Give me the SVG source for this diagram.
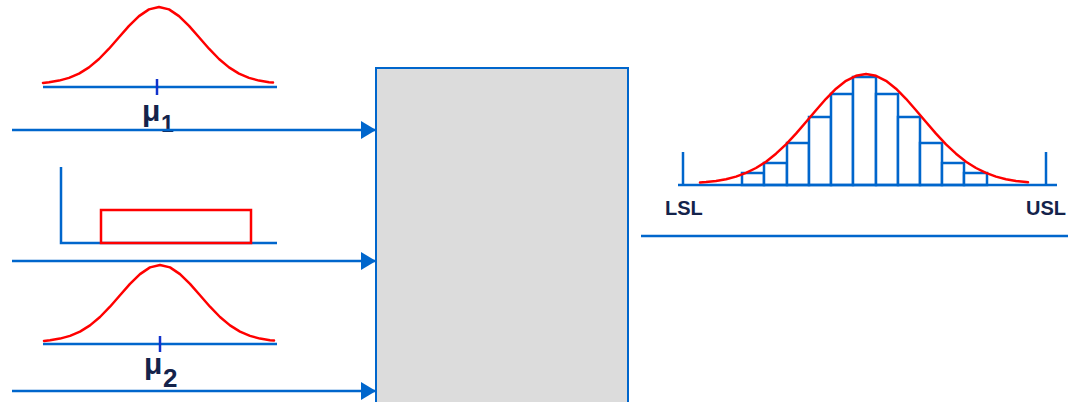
<svg xmlns="http://www.w3.org/2000/svg" width="1068" height="402" viewBox="0 0 1068 402">
<defs>
<style>
.ax{stroke:#0066CC;stroke-width:2.5;fill:none}
.tick{stroke:#1133CC;stroke-width:2.5;fill:none}
.curve{stroke:#FF0000;stroke-width:2.5;fill:none;stroke-linejoin:round;stroke-linecap:round}
.bar{stroke:#0066CC;stroke-width:2.5;fill:#FFFFFF}
.conn{stroke:#0066CC;stroke-width:2.5;fill:none}
.lbl{font-family:"Liberation Sans",Arial,sans-serif;font-weight:bold;fill:#14234B}
</style>
<marker id="ah" markerWidth="16" markerHeight="18" refX="15" refY="9" orient="auto" markerUnits="userSpaceOnUse">
<path d="M0,0 L15,9 L0,18 Z" fill="#0066CC"/>
</marker>
</defs>
<rect width="1068" height="402" fill="#FFFFFF"/>

<g id="process">
<rect x="376" y="68" width="252" height="340" fill="#DCDCDC" stroke="#0066CC" stroke-width="2"/>
</g>

<g id="input1">
<line class="ax" x1="43" y1="87" x2="277" y2="87"/>
<polyline class="curve" points="43,82.9 49,82.2 59,80.6 69,77.9 79,73.6 89,67.4 99,59 109,48.7 119,37.3 129,25.9 139,16.1 149,9.4 159,7 169,9.4 179,16.1 189,25.9 199,37.3 209,48.7 219,59 229,67.4 239,73.6 249,77.9 259,80.6 269,82.2 273,82.6"/>
<line class="tick" x1="157" y1="79" x2="157" y2="95"/>
<text class="lbl" x="142" y="121" font-size="30">μ</text>
<text class="lbl" x="161" y="132" font-size="23">1</text>
</g>

<g id="input2">
<polyline class="ax" points="61,167 61,243 277,243"/>
<rect x="101" y="210" width="150" height="33" fill="none" stroke="#FF0000" stroke-width="2.5"/>
</g>

<g id="input3">
<line class="ax" x1="43" y1="344" x2="277" y2="344"/>
<polyline class="curve" transform="translate(1,258)" points="43,82.9 49,82.2 59,80.6 69,77.9 79,73.6 89,67.4 99,59 109,48.7 119,37.3 129,25.9 139,16.1 149,9.4 159,7 169,9.4 179,16.1 189,25.9 199,37.3 209,48.7 219,59 229,67.4 239,73.6 249,77.9 259,80.6 269,82.2 273,82.6"/>
<line class="tick" x1="160" y1="336" x2="160" y2="352"/>
<text class="lbl" x="144" y="374" font-size="30">μ</text>
<text class="lbl" x="163" y="387" font-size="26">2</text>
</g>

<g id="output">
<rect class="bar" x="742" y="173" width="22" height="12"/>
<rect class="bar" x="764" y="163" width="23" height="22"/>
<rect class="bar" x="787" y="143" width="22" height="42"/>
<rect class="bar" x="809" y="117" width="22" height="68"/>
<rect class="bar" x="831" y="94" width="22" height="91"/>
<rect class="bar" x="853" y="77" width="23" height="108"/>
<rect class="bar" x="876" y="94" width="22" height="91"/>
<rect class="bar" x="898" y="117" width="22" height="68"/>
<rect class="bar" x="920" y="143" width="22" height="42"/>
<rect class="bar" x="942" y="163" width="22" height="22"/>
<rect class="bar" x="964" y="173" width="23" height="12"/>
<line class="ax" x1="678" y1="185" x2="1057" y2="185"/>
<line class="ax" x1="683" y1="152" x2="683" y2="185"/>
<line class="ax" x1="1046" y1="152" x2="1046" y2="185"/>
<polyline class="curve" points="700,182.6 706,182.1 716,181 726,179.2 736,176.6 746,172.9 756,168 766,161.7 776,153.7 786,144.4 796,133.6 806,122 816,110.2 826,98.8 836,88.7 846,80.8 856,75.8 866,74 876,75.8 886,80.8 896,88.7 906,98.8 916,110.2 926,122 936,133.6 946,144.4 956,153.7 966,161.7 976,168 986,172.9 996,176.6 1006,179.2 1016,181 1026,182.1 1028,182.3"/>
<text class="lbl" x="665" y="215" font-size="20">LSL</text>
<text class="lbl" x="1026" y="215" font-size="20">USL</text>
<line class="ax" x1="641" y1="236" x2="1068" y2="236"/>
</g>

<g id="connectors">
<line class="conn" x1="12" y1="130" x2="376" y2="130" marker-end="url(#ah)"/>
<line class="conn" x1="12" y1="261" x2="376" y2="261" marker-end="url(#ah)"/>
<line class="conn" x1="12" y1="391" x2="376" y2="391" marker-end="url(#ah)"/>
</g>
</svg>
